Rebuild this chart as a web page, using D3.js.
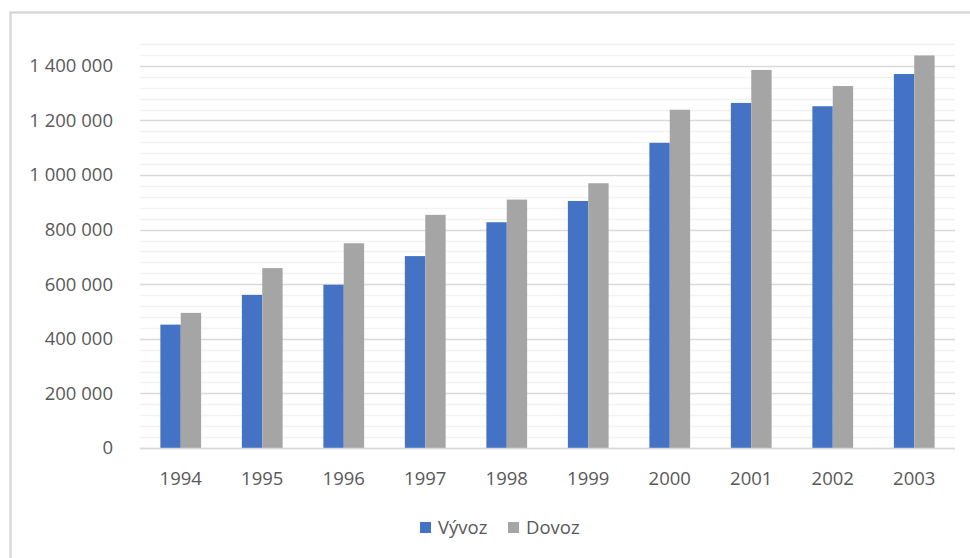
<!DOCTYPE html>
<html>
<head>
<meta charset="utf-8">
<script src="https://cdn.jsdelivr.net/npm/d3@7"></script>
<style>
  html, body { margin: 0; padding: 0; background: #fff; }
  svg { display: block; }
  text { font-family: "Open Sans", "Liberation Sans", sans-serif; fill: #595959; }
</style>
</head>
<body>
<svg id="chart" width="970" height="558"></svg>
<script>
const years = ["1994","1995","1996","1997","1998","1999","2000","2001","2002","2003"];
const vyvoz = [452000, 561000, 598000, 703000, 827000, 905000, 1118000, 1264000, 1252000, 1370000];
const dovoz = [495000, 659000, 750000, 854000, 910000, 970000, 1239000, 1385000, 1326000, 1438000];
const seriesNames = ["Vývoz", "Dovoz"];
const seriesColors = ["#4472C4", "#A5A5A5"];
const yTicks = [0, 200000, 400000, 600000, 800000, 1000000, 1200000, 1400000];
const yMax = 1480000;
const minorStep = 40000;

const svg = d3.select("#chart");
const W = 970, H = 558;
const plot = { left: 140, right: 955, top: 44, bottom: 448 };
const fontSize = 18.5;

// Outer frame
svg.append("rect")
  .attr("x", 10.5).attr("y", 12.5)
  .attr("width", W + 10).attr("height", H + 10)
  .attr("fill", "none").attr("stroke", "#D9D9D9").attr("stroke-width", 2.5);

const x = d3.scaleBand().domain(years).range([plot.left, plot.right]).padding(0);
const y = d3.scaleLinear().domain([0, yMax]).range([plot.bottom, plot.top]);

const crisp = v => Math.round(v) + 0.5;

// Minor gridlines
const minor = d3.range(0, yMax + 1, minorStep).filter(v => v % 200000 !== 0);
svg.append("g").selectAll("line").data(minor).join("line")
  .attr("x1", plot.left).attr("x2", plot.right)
  .attr("y1", d => crisp(y(d))).attr("y2", d => crisp(y(d)))
  .attr("stroke", "#F2F2F2").attr("stroke-width", 1.5);

// Major gridlines
svg.append("g").selectAll("line").data(yTicks).join("line")
  .attr("x1", plot.left).attr("x2", plot.right)
  .attr("y1", d => crisp(y(d))).attr("y2", d => crisp(y(d)))
  .attr("stroke", "#D9D9D9").attr("stroke-width", 1.5);

// Bars
const bw = x.bandwidth() / 4;
const data = years.map((yr, i) => ({ yr, vals: [vyvoz[i], dovoz[i]] }));
const groups = svg.append("g").selectAll("g").data(data).join("g");
groups.selectAll("rect").data(d => d.vals.map((v, k) => ({ yr: d.yr, v, k }))).join("rect")
  .attr("x", d => x(d.yr) + x.bandwidth() / 2 - bw + d.k * bw)
  .attr("width", bw)
  .attr("y", d => y(d.v))
  .attr("height", d => y(0) - y(d.v))
  .attr("fill", d => seriesColors[d.k]);

// Axis line (baseline)
svg.append("line")
  .attr("x1", plot.left).attr("x2", plot.right)
  .attr("y1", crisp(y(0))).attr("y2", crisp(y(0)))
  .attr("stroke", "#D9D9D9").attr("stroke-width", 1.5);

// Y axis
const loc = d3.formatLocale({ decimal: ",", thousands: "\u00a0", grouping: [3], currency: ["", ""] });
const fmt = loc.format(",");
const yAxis = svg.append("g")
  .attr("transform", `translate(${plot.left},0)`)
  .call(d3.axisLeft(y).tickValues(yTicks).tickFormat(fmt).tickSize(0).tickPadding(27));
yAxis.select(".domain").remove();
yAxis.selectAll("text").attr("font-size", fontSize).attr("font-family", null).style("fill", "#595959");

// X axis
const xAxis = svg.append("g")
  .attr("transform", `translate(0,${plot.bottom})`)
  .call(d3.axisBottom(x).tickSize(0).tickPadding(24));
xAxis.select(".domain").remove();
xAxis.selectAll("text").attr("font-size", fontSize).attr("font-family", null).style("fill", "#595959");

// Legend
const legend = svg.append("g");
const legendItems = [
  { name: seriesNames[0], color: seriesColors[0], x: 420 },
  { name: seriesNames[1], color: seriesColors[1], x: 508 }
];
legendItems.forEach(it => {
  legend.append("rect").attr("x", it.x).attr("y", 522).attr("width", 11).attr("height", 11).attr("fill", it.color);
  legend.append("text").attr("x", it.x + 18).attr("y", 534).attr("font-size", fontSize).text(it.name);
});
</script>
</body>
</html>
